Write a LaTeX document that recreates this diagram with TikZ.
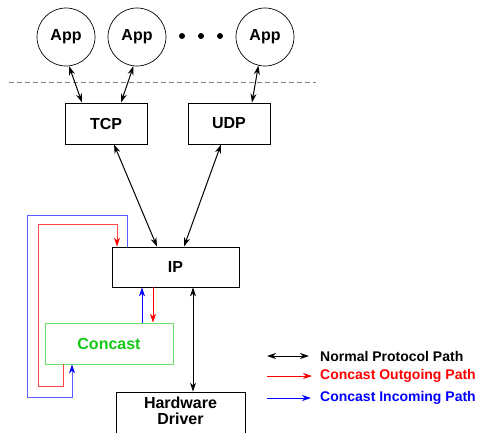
\documentclass[tikz,border=0pt]{standalone}
\usepackage{fontspec}
\setmainfont{Liberation Sans}
\usetikzlibrary{arrows.meta}
\definecolor{cgreen}{RGB}{20,200,20}
\definecolor{cgreenline}{RGB}{110,225,110}
\definecolor{loopred}{RGB}{255,70,70}
\definecolor{loopblue}{RGB}{90,90,255}
\tikzset{
  lbl/.style={font=\fontsize{16}{16}\selectfont\bfseries},
  app/.style={circle, draw, line width=0.7pt, minimum size=58pt, inner sep=0pt, lbl},
  layer/.style={rectangle, draw, line width=0.9pt, inner sep=0pt, lbl},
  conn/.style={line width=1pt, {Stealth[length=9pt,width=6pt]}-{Stealth[length=9pt,width=6pt]}},
  outpath/.style={line width=1pt, red, -{Stealth[length=9pt,width=6pt]}},
  inpath/.style={line width=1pt, blue, -{Stealth[length=9pt,width=6pt]}},
  outloop/.style={line width=1pt, loopred, -{Stealth[length=9pt,width=6pt,fill=red,color=red]}},
  inloop/.style={line width=1pt, loopblue, -{Stealth[length=9pt,width=6pt,fill=blue,color=blue]}},
  legtext/.style={anchor=west, inner sep=0pt, font=\fontsize{14}{14}\selectfont\bfseries},
  dot/.style={circle, fill, inner sep=0pt, minimum size=6pt}
}
\begin{document}
\begin{tikzpicture}[x=1pt, y=-1pt]
\useasboundingbox (0,0) rectangle (477,432);

% applications
\node[app] (app1) at (66,37) {App};
\node[app] (app2) at (137,37) {App};
\node[app] (app3) at (265,37) {App};
\node[dot] (d1) at (182,36) {};
\node[dot] (d2) at (201,36) {};
\node[dot] (d3) at (220,36) {};

% user / kernel boundary
\coordinate (bl) at (9,82);
\coordinate (br) at (316,82);
\draw[gray, line width=0.9pt, dash pattern=on 5pt off 3pt] (bl) -- (br);

% protocol layers
\node[layer, minimum width=82pt, minimum height=41pt] (tcp) at (106,123.5) {TCP};
\node[layer, minimum width=82pt, minimum height=41pt] (udp) at (229,123.5) {UDP};
\node[layer, minimum width=127pt, minimum height=40pt] (ip) at (175.5,267) {IP};
\node[layer, draw=cgreenline, text=cgreen, minimum width=128pt, minimum height=41pt] (concast) at (109,343.5) {Concast};
\node[layer, minimum width=129pt, minimum height=50pt] (hw) at (180.5,417) {};
\node[lbl, align=center, inner sep=0pt] (hwtext) at (180.5,411) {Hardware\\[0pt]Driver};

% normal protocol path
\draw[conn] (app1.-84) -- ([xshift=-24pt]tcp.north);
\draw[conn] (app2.-97) -- ([xshift=15pt]tcp.north);
\draw[conn] (app3.-103) -- ([xshift=23pt]udp.north);
\draw[conn] ([xshift=8pt]tcp.south) -- ([xshift=-18.5pt]ip.north);
\draw[conn] ([xshift=-8pt]udp.south) -- ([xshift=8.5pt]ip.north);
\draw[conn] ([xshift=17.5pt]ip.south) -- ([xshift=12.5pt]hw.north);

% concast paths between IP and Concast
\draw[inpath] ([xshift=33pt]concast.north) -- ([xshift=-33.5pt]ip.south);
\draw[outpath] ([xshift=-22.5pt]ip.south) -- ([xshift=44pt]concast.north);

% loops around the side
\coordinate (ro1) at (38,386);
\coordinate (ro2) at (117,224);
\draw[outloop] ([xshift=-46pt]concast.south) |- (ro1) |- (ro2) -- ([xshift=-58.5pt]ip.north);
\coordinate (bo1) at (127,215);
\coordinate (bo2) at (27,397);
\draw[inloop] ([xshift=-48.5pt]ip.north) -- (bo1) -| (bo2) -| ([xshift=-37pt]concast.south);

% legend
\coordinate (la1) at (267,356);
\coordinate (lb1) at (309,356);
\coordinate (la2) at (267,376);
\coordinate (lb2) at (312,376);
\coordinate (la3) at (267,398);
\coordinate (lb3) at (311,398);
\draw[conn] (la1) -- (lb1);
\draw[outpath] (la2) -- (lb2);
\draw[inpath] (la3) -- (lb3);
\node[legtext] (t1) at (320,356) {Normal Protocol Path};
\node[legtext, text=red] (t2) at (320,376) {Concast Outgoing Path};
\node[legtext, text=blue] (t3) at (320,398) {Concast Incoming Path};
\end{tikzpicture}
\end{document}
